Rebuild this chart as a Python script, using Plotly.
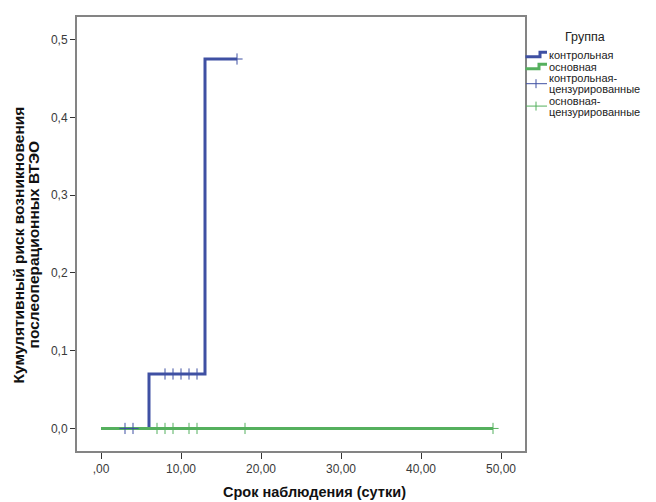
import plotly.graph_objects as go

# Step curves (cumulative risk)
control_t = [0, 6, 13, 17]
control_risk = [0.0, 0.07, 0.475, 0.475]
main_t = [0, 49]
main_risk = [0.0, 0.0]

# Censored observations
control_cens_t = [3, 4, 8, 9, 10, 11, 12, 17]
control_cens_risk = [0.0, 0.0, 0.07, 0.07, 0.07, 0.07, 0.07, 0.475]
main_cens_t = [7, 8, 9, 11, 12, 18, 49]
main_cens_risk = [0.0, 0.0, 0.0, 0.0, 0.0, 0.0, 0.0]

x_tickvals = [0, 10, 20, 30, 40, 50]
x_ticktext = [",00", "10,00", "20,00", "30,00", "40,00", "50,00"]
y_tickvals = [0.0, 0.1, 0.2, 0.3, 0.4, 0.5]
y_ticktext = ["0,0", "0,1", "0,2", "0,3", "0,4", "0,5"]

legend_title = "Группа"
names = ["контрольная", "основная",
         ["контрольная-", "цензурированные"],
         ["основная-", "цензурированные"]]
x_title = "Срок наблюдения (сутки)"
y_title_lines = ["Кумулятивный риск возникновения", "послеоперационных ВТЭО"]

BLUE = "#3f50a3"
GREEN = "#55b05e"
FONT = "Liberation Sans, Arial, sans-serif"

fig = go.Figure()
fig.add_trace(go.Scatter(x=control_t, y=control_risk, mode="lines", line_shape="hv",
                         line=dict(color=BLUE, width=3), name=names[0], showlegend=False))
fig.add_trace(go.Scatter(x=main_t, y=main_risk, mode="lines", line_shape="hv",
                         line=dict(color=GREEN, width=3), name=names[1], showlegend=False))
fig.add_trace(go.Scatter(x=control_cens_t, y=control_cens_risk, mode="markers",
                         marker=dict(symbol="cross-thin", size=8,
                                     line=dict(color=BLUE, width=1), color=BLUE),
                         name=" ".join(names[2]), showlegend=False))
fig.add_trace(go.Scatter(x=main_cens_t, y=main_cens_risk, mode="markers",
                         marker=dict(symbol="cross-thin", size=8,
                                     line=dict(color=GREEN, width=1), color=GREEN),
                         name=" ".join(names[3]), showlegend=False))

axis_common = dict(showline=True, mirror=True, linecolor="#848484", linewidth=2,
                   showgrid=False, zeroline=False, ticks="outside",
                   tickcolor="#333333", tickwidth=1,
                   tickfont=dict(family=FONT, size=12, color="#3a3a3a"))

# plot area in screen pixels (for legend/title placement)
PL, PR, PT, PB = 77.0, 525.0, 15.0, 451.0


def px(sx):
    return (sx - PL) / (PR - PL)


def py(sy):
    return (PB - sy) / (PB - PT)


annotations = []
shapes = []

# Legend title
annotations.append(dict(text=legend_title, xref="paper", yref="paper", x=px(585), y=py(35),
                        showarrow=False, xanchor="center", yanchor="middle",
                        font=dict(family=FONT, size=12.5, color="#222222")))

# Legend entries
text_x = px(548)
entry_rows = [[53], [65], [76.5, 87.5], [99, 110]]
for name, rows in zip(names, entry_rows):
    lines = name if isinstance(name, list) else [name]
    for t, yy in zip(lines, rows):
        annotations.append(dict(text=t, xref="paper", yref="paper", x=text_x, y=py(yy),
                                showarrow=False, xanchor="left", yanchor="middle",
                                borderpad=0,
                                font=dict(family=FONT, size=11, color="#222222")))

# Legend symbols (step glyphs and censor crosses)
for color, ylo, yhi, xstep in [(BLUE, 55, 50.5, 540), (GREEN, 67, 62.5, 539)]:
    path = "M {a},{b} L {c},{b} L {c},{d} L {e},{d}".format(
        a=px(525.5), b=py(ylo), c=px(xstep), d=py(yhi), e=px(547))
    shapes.append(dict(type="path", xref="paper", yref="paper", path=path,
                       line=dict(color=color, width=3)))
for color, yc in [(BLUE, 82), (GREEN, 104.5)]:
    shapes.append(dict(type="line", xref="paper", yref="paper",
                       x0=px(526), x1=px(547), y0=py(yc), y1=py(yc),
                       line=dict(color=color, width=1)))
    shapes.append(dict(type="line", xref="paper", yref="paper",
                       x0=px(536), x1=px(536), y0=py(yc - 4.5), y1=py(yc + 4.5),
                       line=dict(color=color, width=1)))

# Axis titles
annotations.append(dict(text="<b>" + x_title + "</b>", xref="paper", yref="paper",
                        x=px(314.5), y=py(492), showarrow=False,
                        xanchor="center", yanchor="middle",
                        font=dict(family=FONT, size=14.5, color="#111111")))
for t, sx in zip(y_title_lines, [18.5, 33.5]):
    annotations.append(dict(text="<b>" + t + "</b>", xref="paper", yref="paper",
                            x=px(sx), y=py(244), showarrow=False, textangle=-90,
                            xanchor="center", yanchor="middle", borderpad=0,
                            font=dict(family=FONT, size=15.5, color="#111111")))

fig.update_layout(
    width=656, height=502,
    paper_bgcolor="white", plot_bgcolor="white",
    margin=dict(l=69, r=139, t=7, b=59),
    font=dict(family=FONT, color="#222222"),
    xaxis=dict(range=[-3, 53], tickvals=x_tickvals, ticktext=x_ticktext, ticklen=6,
               **axis_common),
    yaxis=dict(range=[-0.029, 0.529], tickvals=y_tickvals, ticktext=y_ticktext, ticklen=5,
               **axis_common),
    showlegend=False,
    annotations=annotations,
    shapes=shapes,
)

fig.write_html("out.html")
